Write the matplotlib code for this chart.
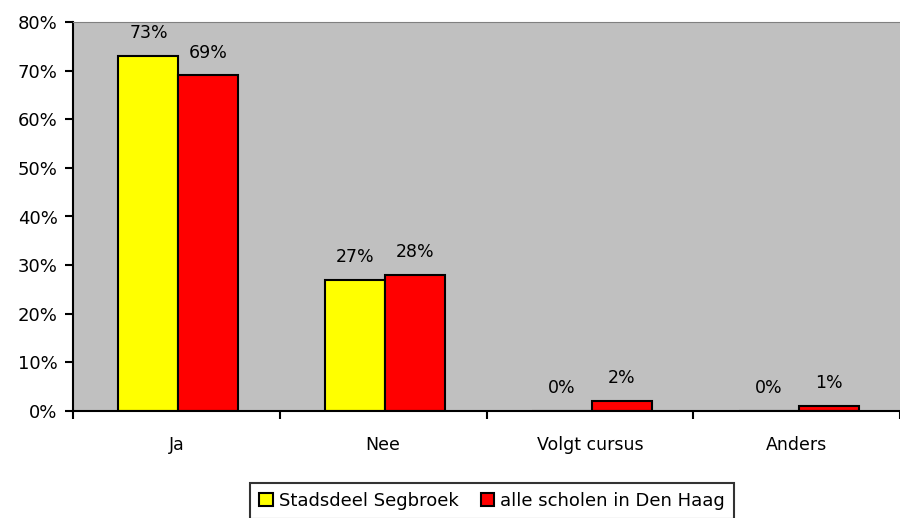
import matplotlib.pyplot as plt
import matplotlib.ticker as mticker
from matplotlib.patches import Patch
import numpy as np

categories = ['Ja', 'Nee', 'Volgt cursus', 'Anders']
segbroek = [73, 27, 0, 0]
den_haag = [69, 28, 2, 1]
series_names = ['Stadsdeel Segbroek', 'alle scholen in Den Haag']

plt.rcParams['font.family'] = ['DejaVu Sans']
FS = 12.5

fig = plt.figure(figsize=(9, 5.18), dpi=100)
ax = fig.add_axes([73 / 900, 107 / 518, 827 / 900, 389 / 518])
ax.set_facecolor('#C0C0C0')

x = np.arange(len(categories))
w = 0.29
off = 0.01
b1 = ax.bar(x - w / 2 + off, segbroek, w, color='#FFFF00', edgecolor='black', linewidth=1.5)
b2 = ax.bar(x + w / 2 + off, den_haag, w, color='#FF0000', edgecolor='black', linewidth=1.5)

for bars, vals in ((b1, segbroek), (b2, den_haag)):
    for rect, v in zip(bars, vals):
        ax.annotate('%d%%' % v, (rect.get_x() + rect.get_width() / 2, v),
                    xytext=(0, 10), textcoords='offset points',
                    ha='center', va='bottom', fontsize=FS)

ax.set_xlim(-0.5, len(categories) - 0.5)
ax.set_ylim(0, 80)
ax.yaxis.set_major_locator(mticker.MultipleLocator(10))
ax.yaxis.set_major_formatter(mticker.FuncFormatter(lambda v, p: '%d%%' % v))

# category labels centered, tick marks on the boundaries
ax.set_xticks(x)
ax.set_xticklabels(categories)
ax.tick_params(axis='x', which='major', length=0, pad=18, labelsize=FS)
ax.set_xticks(np.arange(-0.5, len(categories) + 0.5, 1), minor=True)
ax.tick_params(axis='x', which='minor', length=6, width=1.5, direction='out')
ax.tick_params(axis='y', length=6, width=1.5, labelsize=13, pad=5)

for s in ('left', 'bottom'):
    ax.spines[s].set_linewidth(1.5)
ax.spines['right'].set_visible(False)
ax.spines['top'].set_color('#808080')

handles = [Patch(facecolor='#FFFF00', edgecolor='black', linewidth=1.5),
           Patch(facecolor='#FF0000', edgecolor='black', linewidth=1.5)]
leg = ax.legend(handles, series_names, loc='upper center', bbox_to_anchor=(0.507, -0.185),
                ncol=2, fontsize=13, frameon=True, fancybox=False, handlelength=0.75,
                handleheight=0.75, handletextpad=0.35, columnspacing=1.2,
                borderpad=0.5, borderaxespad=0)
leg.get_frame().set_edgecolor('black')
leg.get_frame().set_linewidth(1.5)

fig.savefig('out.png', dpi=100)
